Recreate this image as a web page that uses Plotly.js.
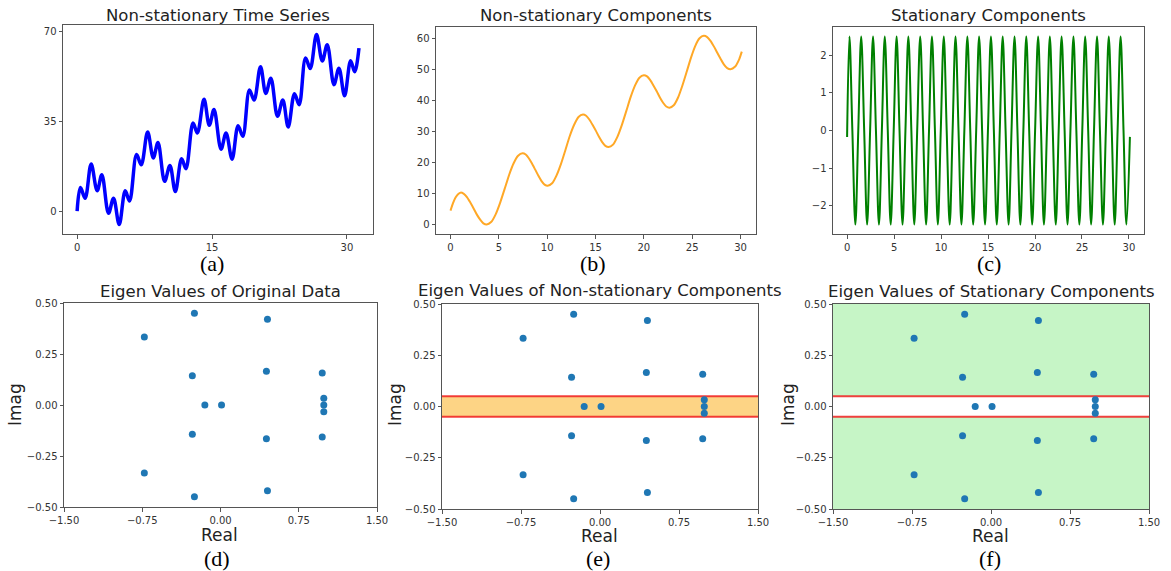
<!DOCTYPE html>
<html>
<head>
<meta charset="utf-8">
<script src="https://cdn.plot.ly/plotly-3.0.1.min.js"></script>
<style>html,body{margin:0;padding:0;background:#fff;}#chart{width:1171px;height:571px;}</style>
</head>
<body>
<div id="chart"></div>
<script>
// ---- Data ----
// (a) Non-stationary time series
const tA = [0, 0.37, 0.89, 1.56, 2.23, 2.75, 3.49, 4.05, 4.68, 5.35, 5.83, 6.61, 7.13, 7.84, 8.47, 8.99, 9.73, 10.32, 10.92, 11.62, 12.1, 12.89, 13.37, 14.11, 14.7, 15.22, 16.0, 16.56, 17.23, 17.9, 18.42, 19.16, 19.68, 20.39, 20.98, 21.54, 22.28, 22.87, 23.47, 24.17, 24.69, 25.4, 25.92, 26.62, 27.26, 27.81, 28.56, 29.11, 29.74, 30.41, 30.86, 31.34];
const yA = [0, 9.2, 5.0, 18.3, 7.9, 14.1, -0.8, 5.0, -5.2, 7.9, 3.9, 22, 18, 30.8, 20.7, 26.7, 11.6, 17.7, 7.6, 20.4, 16.5, 34.3, 30.4, 43.5, 33.4, 39.5, 24.1, 30.4, 20.2, 33.2, 29.1, 47.1, 43.2, 56.2, 45.8, 51.7, 36.9, 43.2, 32.7, 45.7, 41.4, 59.6, 55.5, 68.7, 58.4, 64.7, 49.2, 55.6, 44.9, 58.5, 54.2, 63.4];

// (b) Non-stationary components
const tB = [0, 0.26, 0.52, 0.78,
  1.04, 1.38, 1.72, 2.05, 2.39, 2.73, 3.07, 3.4,
  3.74, 4.2, 4.67, 5.13, 5.6, 6.06, 6.52, 6.99,
  7.45, 7.78, 8.1, 8.43, 8.75, 9.08, 9.4, 9.73,
  10.05, 10.51, 10.96, 11.42, 11.88, 12.33, 12.79, 13.24,
  13.7, 14.03, 14.36, 14.69, 15.03, 15.36, 15.69, 16.02,
  16.35, 16.81, 17.26, 17.72, 18.18, 18.63, 19.09, 19.54,
  20.0, 20.33, 20.66, 20.99, 21.33, 21.66, 21.99, 22.32,
  22.65, 23.09, 23.54, 23.98, 24.43, 24.87, 25.31, 25.76,
  26.2, 26.55, 26.89, 27.24, 27.58, 27.93, 28.27, 28.62,
  28.96, 29.42, 29.87, 30.13];
const yB = [4.5, 6.9, 8.7, 9.8,
  10.3, 9.9, 8.8, 7.1, 5.2, 3.2, 1.6, 0.4,
  0, 0.8, 3.3, 7.0, 11.5, 16.0, 19.7, 22.2,
  23, 22.6, 21.4, 19.7, 17.8, 15.8, 14.1, 12.9,
  12.5, 13.3, 15.8, 19.5, 24, 28.5, 32.2, 34.7,
  35.5, 35.1, 33.9, 32.2, 30.3, 28.3, 26.6, 25.4,
  25, 25.8, 28.3, 32.1, 36.6, 41.1, 44.9, 47.4,
  48.2, 47.8, 46.6, 44.9, 43.0, 41.0, 39.3, 38.1,
  37.7, 38.5, 41.0, 44.8, 49.3, 53.8, 57.6, 60.1,
  60.9, 60.5, 59.3, 57.5, 55.5, 53.5, 51.7, 50.5,
  50.1, 50.9, 53.4, 55.8];

// (c) Stationary components
const tC = [0, 0.25, 0.56, 0.88, 1.19, 1.5, 1.82, 2.13, 2.45, 2.76, 3.07, 3.39, 3.7, 4.01, 4.33, 4.64, 4.96, 5.27, 5.58, 5.9, 6.21, 6.52, 6.84, 7.15, 7.46, 7.78, 8.09, 8.41, 8.72, 9.03, 9.35, 9.66, 9.97, 10.29, 10.6, 10.92, 11.23, 11.54, 11.86, 12.17, 12.48, 12.8, 13.11, 13.42, 13.74, 14.05, 14.37, 14.68, 14.99, 15.31, 15.62, 15.93, 16.25, 16.56, 16.87, 17.19, 17.5, 17.82, 18.13, 18.44, 18.76, 19.07, 19.38, 19.7, 20.01, 20.33, 20.64, 20.95, 21.27, 21.58, 21.89, 22.21, 22.52, 22.83, 23.15, 23.46, 23.77, 24.09, 24.4, 24.72, 25.03, 25.34, 25.66, 25.97, 26.28, 26.6, 26.91, 27.23, 27.54, 27.85, 28.17, 28.48, 28.79, 29.11, 29.42, 29.73, 30.1];
const yC = [-0.17, 2.5, 0, -2.5, 0, 2.5, 0, -2.5, 0, 2.5, 0, -2.5, 0, 2.5, 0, -2.5, 0, 2.5, 0, -2.5, 0, 2.5, 0, -2.5, 0, 2.5, 0, -2.5, 0, 2.5, 0, -2.5, 0, 2.5, 0, -2.5, 0, 2.5, 0, -2.5, 0, 2.5, 0, -2.5, 0, 2.5, 0, -2.5, 0, 2.5, 0, -2.5, 0, 2.5, 0, -2.5, 0, 2.5, 0, -2.5, 0, 2.5, 0, -2.5, 0, 2.5, 0, -2.5, 0, 2.5, 0, -2.5, 0, 2.5, 0, -2.5, 0, 2.5, 0, -2.5, 0, 2.5, 0, -2.5, 0, 2.5, 0, -2.5, 0, 2.5, 0, -2.5, 0, 2.5, 0, -2.5, -0.17];

// (d)(e)(f) Eigen values
const eigReal = [-0.73, -0.73, -0.25, -0.25, -0.27, -0.27, -0.15, 0.01, 0.45, 0.45, 0.44, 0.44, 0.975, 0.975, 0.99, 0.99, 0.99];
const eigImag = [0.333, -0.333, 0.45, -0.45, 0.143, -0.143, 0, 0, 0.42, -0.42, 0.166, -0.166, 0.157, -0.157, 0.033, -0.033, 0];

// Tick values / labels
const ticksA_x = [0, 15, 30];
const ticksA_y = [0, 35, 70];
const ticksB_x = [0, 5, 10, 15, 20, 25, 30];
const ticksB_y = [0, 10, 20, 30, 40, 50, 60];
const ticksC_y = [-2, -1, 0, 1, 2];
const ticksEig_x = [-1.5, -0.75, 0, 0.75, 1.5];
const ticksEig_y = [-0.5, -0.25, 0, 0.25, 0.5];
const bandHalf = 0.05;

const titles = ['Non-stationary Time Series', 'Non-stationary Components', 'Stationary Components',
  'Eigen Values of Original Data', 'Eigen Values of Non-stationary Components', 'Eigen Values of Stationary Components'];
const labels = ['(a)', '(b)', '(c)', '(d)', '(e)', '(f)'];

// ---- Layout geometry ----
const W = 1171, H = 571;
const px = (a, b) => [a / W, b / W];
const py = (top, bottom) => [1 - bottom / H, 1 - top / H];
const boxes = [
  {x: px(63, 373), y: py(25, 234)},
  {x: px(436, 756), y: py(27, 234)},
  {x: px(833, 1144), y: py(27, 234)},
  {x: px(64, 377), y: py(303, 507)},
  {x: px(442, 758), y: py(304, 509)},
  {x: px(833, 1149), y: py(304, 509)}
];

const tickFont = {family: 'DejaVu Sans', size: 10, color: '#333'};
function axis(domain, anchor, extra) {
  return Object.assign({
    domain: domain, anchor: anchor, showgrid: false, zeroline: false,
    showline: true, mirror: true, linecolor: '#555', linewidth: 1,
    ticks: 'outside', ticklen: 3.5, tickcolor: '#555', tickwidth: 1,
    tickfont: tickFont, tickmode: 'array', fixedrange: true
  }, extra);
}

const traces = [
  {x: tA, y: yA, type: 'scatter', mode: 'lines', xaxis: 'x', yaxis: 'y',
   line: {color: '#0000ff', width: 3.5, shape: 'spline', smoothing: 1}},
  {x: tB, y: yB, type: 'scatter', mode: 'lines', xaxis: 'x2', yaxis: 'y2',
   line: {color: '#ffa826', width: 2, shape: 'spline', smoothing: 0.6}},
  {x: tC, y: yC, type: 'scatter', mode: 'lines', xaxis: 'x3', yaxis: 'y3',
   line: {color: '#008000', width: 2, shape: 'spline', smoothing: 1}}
];
['x4', 'x5', 'x6'].forEach((xa, i) => {
  traces.push({x: eigReal, y: eigImag, type: 'scatter', mode: 'markers', xaxis: xa, yaxis: 'y' + (4 + i),
    marker: {color: '#1f77b4', size: 7}});
});

const layout = {
  width: W, height: H, margin: {l: 0, r: 0, t: 0, b: 0},
  paper_bgcolor: '#fff', plot_bgcolor: 'rgba(0,0,0,0)', showlegend: false,
  xaxis: axis(boxes[0].x, 'y', {range: [-1.57, 32.9], tickvals: ticksA_x}),
  yaxis: axis(boxes[0].y, 'x', {range: [-8.9, 72.4], tickvals: ticksA_y}),
  xaxis2: axis(boxes[1].x, 'y2', {range: [-1.5, 31.6], tickvals: ticksB_x}),
  yaxis2: axis(boxes[1].y, 'x2', {range: [-3.05, 63.75], tickvals: ticksB_y}),
  xaxis3: axis(boxes[2].x, 'y3', {range: [-1.5, 31.6], tickvals: ticksB_x}),
  yaxis3: axis(boxes[2].y, 'x3', {range: [-2.75, 2.75], tickvals: ticksC_y}),
  shapes: [], annotations: []
};
for (let i = 0; i < 3; i++) {
  const n = 4 + i;
  layout['xaxis' + n] = axis(boxes[3 + i].x, 'y' + n, {range: [-1.5, 1.5], tickvals: ticksEig_x, tickformat: '.2f'});
  layout['yaxis' + n] = axis(boxes[3 + i].y, 'x' + n, {range: [-0.5, 0.5], tickvals: ticksEig_y, tickformat: '.2f'});
}

// (e) orange band
layout.shapes.push({type: 'rect', xref: 'x5', yref: 'y5', x0: -1.5, x1: 1.5, y0: -bandHalf, y1: bandHalf,
  fillcolor: '#fdd485', line: {width: 0}, layer: 'below'});
// (f) green areas outside band
layout.shapes.push({type: 'rect', xref: 'x6', yref: 'y6', x0: -1.5, x1: 1.5, y0: bandHalf, y1: 0.5,
  fillcolor: '#c6f5c6', line: {width: 0}, layer: 'below'});
layout.shapes.push({type: 'rect', xref: 'x6', yref: 'y6', x0: -1.5, x1: 1.5, y0: -0.5, y1: -bandHalf,
  fillcolor: '#c6f5c6', line: {width: 0}, layer: 'below'});
['5', '6'].forEach(n => {
  [bandHalf, -bandHalf].forEach(v => {
    layout.shapes.push({type: 'line', xref: 'x' + n, yref: 'y' + n, x0: -1.5, x1: 1.5, y0: v, y1: v,
      line: {color: 'rgba(240,30,30,0.85)', width: 2}, layer: 'below'});
  });
});

// titles
const titleFont = {family: 'DejaVu Sans', size: 16.5, color: '#222'};
const titlePos = [[218, 15], [596, 15], [988, 15], [220, 291], [600, 290], [991, 291]];
titles.forEach((t, i) => {
  layout.annotations.push({text: t, xref: 'paper', yref: 'paper', x: titlePos[i][0] / W, y: 1 - titlePos[i][1] / H,
    xanchor: 'center', yanchor: 'middle', showarrow: false, font: titleFont});
});
// sub-figure labels
const labFont = {family: 'Liberation Serif', size: 22, color: '#000'};
const labPos = [[212, 263], [593, 263], [989, 263], [217, 558], [598, 558], [990, 558]];
labels.forEach((t, i) => {
  layout.annotations.push({text: t, xref: 'paper', yref: 'paper', x: labPos[i][0] / W, y: 1 - labPos[i][1] / H,
    xanchor: 'center', yanchor: 'middle', showarrow: false, font: labFont});
});
// axis titles for eigen plots
const axFont = {family: 'DejaVu Sans', size: 17, color: '#222'};
const realPos = [[219, 535], [599, 536], [990, 536]];
const imagPos = [[15, 405], [395, 405], [788, 405]];
for (let i = 0; i < 3; i++) {
  layout.annotations.push({text: 'Real', xref: 'paper', yref: 'paper', x: realPos[i][0] / W, y: 1 - realPos[i][1] / H,
    xanchor: 'center', yanchor: 'middle', showarrow: false, font: axFont});
  layout.annotations.push({text: 'Imag', xref: 'paper', yref: 'paper', x: imagPos[i][0] / W, y: 1 - imagPos[i][1] / H,
    xanchor: 'center', yanchor: 'middle', showarrow: false, font: axFont, textangle: -90});
}

Plotly.newPlot('chart', traces, layout, {displayModeBar: false, staticPlot: true});
</script>
</body>
</html>
